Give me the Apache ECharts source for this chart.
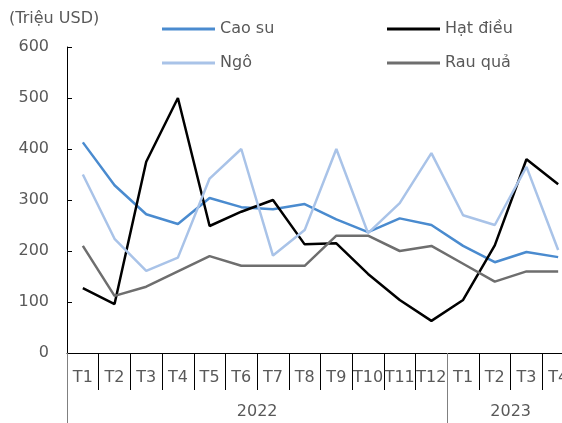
<!DOCTYPE html>
<html>
<head>
<meta charset="utf-8">
<script src="https://cdn.jsdelivr.net/npm/echarts@6/dist/echarts.min.js"></script>
<style>
  html, body { margin: 0; padding: 0; background: #fff; }
  #chart { width: 562px; height: 423px; }
</style>
</head>
<body>
<div id="chart"></div>
<script>
// months shown on the axis, 2022 then 2023
var months = ['T1', 'T2', 'T3', 'T4', 'T5', 'T6', 'T7', 'T8', 'T9', 'T10', 'T11', 'T12', 'T1', 'T2', 'T3', 'T4'];
var years = ['2022', '2023'];
var yearSpans = [12, 4];

var caoSu   = [413, 329, 272, 253, 304, 286, 282, 292, 262, 237, 264, 251, 210, 178, 198, 188];
var hatDieu = [127, 96, 375, 500, 249, 277, 300, 213, 215, 155, 104, 63, 104, 211, 380, 331];
var ngo     = [350, 224, 161, 187, 342, 400, 191, 241, 400, 235, 294, 392, 270, 251, 365, 202];
var rauQua  = [210, 112, 130, 160, 190, 171, 171, 171, 230, 230, 200, 210, 175, 140, 160, 160];

var font = 'DejaVu Sans';
var textColor = '#595959';

// year group boundaries and label centres (in month units)
var yearEdges = [0];
var yearMids = [];
yearSpans.forEach(function (s, i) {
    yearMids.push(yearEdges[i] + s / 2);
    yearEdges.push(yearEdges[i] + s);
});

var chart = echarts.init(document.getElementById('chart'));

function mkLine(name, data, color) {
    return {
        name: name,
        type: 'line',
        data: data,
        symbol: 'none',
        xAxisIndex: 0,
        lineStyle: { color: color, width: 2.5 },
        itemStyle: { color: color }
    };
}

var legendBase = {
    top: 16,
    orient: 'vertical',
    itemWidth: 53,
    itemHeight: 14,
    itemGap: 18,
    icon: 'path://M0,5.5 L53,5.5 L53,8.5 L0,8.5 Z',
    textStyle: { fontFamily: font, fontSize: 16, color: textColor }
};

chart.setOption({
    animation: false,
    backgroundColor: '#fff',
    title: {
        text: '(Triệu USD)',
        left: 4,
        top: 6,
        textStyle: { fontFamily: font, fontSize: 16, fontWeight: 'normal', color: textColor }
    },
    legend: [
        Object.assign({}, legendBase, { left: 157, data: ['Cao su', 'Ngô'] }),
        Object.assign({}, legendBase, { left: 382, data: ['Hạt điều', 'Rau quả'] })
    ],
    grid: { left: 67, right: -12, top: 47, bottom: 70, outerBoundsMode: 'none', containLabel: false },
    xAxis: [
        {
            type: 'category',
            data: months,
            boundaryGap: true,
            axisLine: { lineStyle: { color: '#000', width: 1 } },
            axisTick: { show: true, interval: 0, length: 37, lineStyle: { color: '#000' } },
            axisLabel: { interval: 0, margin: 17, fontFamily: font, fontSize: 16, color: textColor },
            splitLine: { show: false }
        },
        {
            type: 'value',
            position: 'bottom',
            min: 0,
            max: yearEdges[yearEdges.length - 1],
            axisLine: { show: false },
            splitLine: { show: false },
            axisTick: { show: true, customValues: yearEdges, length: 70, lineStyle: { color: '#808080' } },
            axisLabel: {
                customValues: yearMids,
                margin: 51,
                fontFamily: font,
                fontSize: 16,
                color: textColor,
                formatter: function (v) {
                    var i = yearMids.indexOf(v);
                    return i >= 0 ? years[i] : '';
                }
            }
        }
    ],
    yAxis: {
        type: 'value',
        min: 0,
        max: 600,
        interval: 100,
        axisLine: { show: true, lineStyle: { color: '#000', width: 1 } },
        axisTick: { show: true, inside: true, length: 5, lineStyle: { color: '#000' } },
        axisLabel: { margin: 18, fontFamily: font, fontSize: 16, color: textColor },
        splitLine: { show: false }
    },
    series: [
        mkLine('Cao su', caoSu, '#4a8bcf'),
        mkLine('Hạt điều', hatDieu, '#000000'),
        mkLine('Ngô', ngo, '#a9c3e8'),
        mkLine('Rau quả', rauQua, '#6e6e6e')
    ]
});
</script>
</body>
</html>
